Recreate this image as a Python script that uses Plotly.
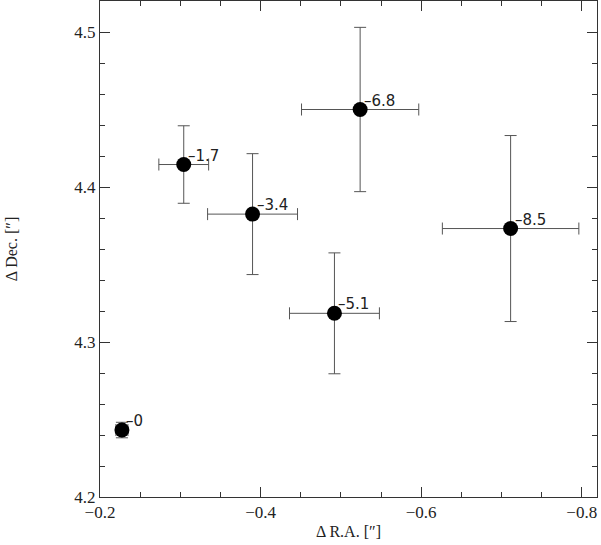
import plotly.graph_objects as go

labels = ["0", "1.7", "3.4", "5.1", "6.8", "8.5"]
ra = [-0.2273, -0.3043, -0.390, -0.492, -0.524, -0.7114]
dec = [4.2432, 4.4145, 4.3825, 4.3185, 4.450, 4.3732]
ra_err = [0.0075, 0.031, 0.056, 0.056, 0.073, 0.085]
dec_err = [0.005, 0.025, 0.039, 0.039, 0.053, 0.060]

SERIF = "Liberation Serif, DejaVu Serif, serif"

fig = go.Figure()
fig.add_trace(go.Scatter(
    x=ra, y=dec, mode="markers",
    marker=dict(color="black", size=15),
    error_x=dict(type="data", array=ra_err, color="#555555", thickness=1, width=6),
    error_y=dict(type="data", array=dec_err, color="#555555", thickness=1, width=6),
    showlegend=False, hoverinfo="skip",
))

for lab, x, y in zip(labels, ra, dec):
    fig.add_annotation(x=x, y=y, xref="x", yref="y", text="\u2013" + lab,
                       showarrow=False, xanchor="left", yanchor="middle",
                       xshift=2, yshift=9,
                       font=dict(family="DejaVu Sans", size=15, color="#222"))

axis_common = dict(
    showgrid=False, zeroline=False, showline=True, linecolor="#333", linewidth=1,
    mirror="ticks", ticks="inside", ticklen=10, tickcolor="#333", tickwidth=1,
    tickfont=dict(family=SERIF, size=17, color="#222"),
    automargin=False,
)
fig.update_xaxes(range=[-0.2, -0.819], dtick=0.2, tick0=-0.2, tickformat=".1f",
                 minor=dict(dtick=0.05, ticks="inside", ticklen=5, tickcolor="#333"),
                 title=dict(text="\u0394 R.A. [\u2033]", font=dict(family=SERIF, size=16, color="#222"), standoff=4),
                 **axis_common)
fig.update_yaxes(range=[4.2, 4.52], dtick=0.1, tick0=4.2, tickformat=".1f",
                 minor=dict(dtick=0.02, ticks="inside", ticklen=5, tickcolor="#333"),
                 title=dict(text="\u0394 Dec. [\u2033]", font=dict(family=SERIF, size=16, color="#222"), standoff=52),
                 **axis_common)
fig.update_layout(
    width=601, height=545,
    margin=dict(l=100, r=4, t=1, b=48),
    font=dict(family=SERIF, size=17, color="#222"),
    plot_bgcolor="white", paper_bgcolor="white",
)
fig.write_html("out.html", config={"displayModeBar": False},
               post_script="document.body.style.margin='0';document.body.style.overflow='hidden';")
